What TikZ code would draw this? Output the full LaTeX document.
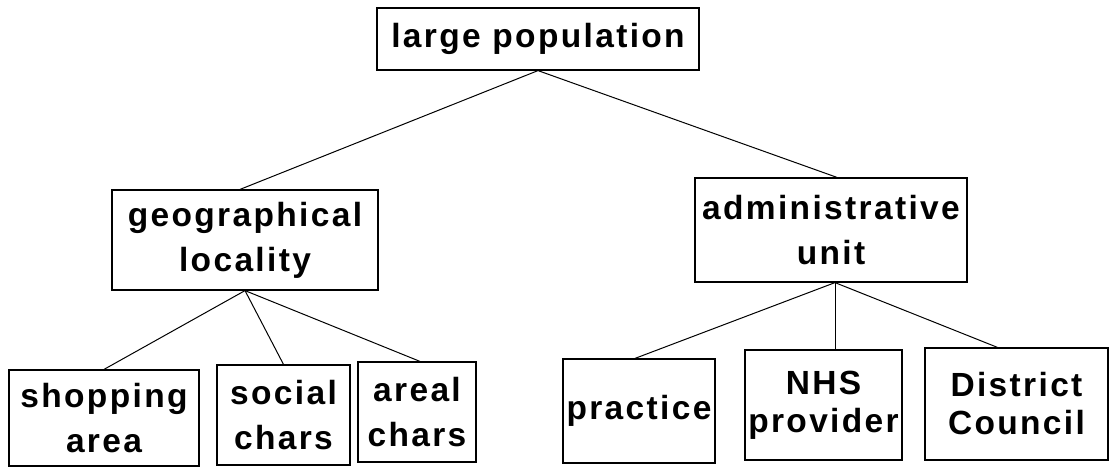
\documentclass[tikz,border=0pt]{standalone}
\usepackage{fontspec}
\setmainfont{Liberation Sans}[LetterSpace=7]
\begin{document}
\begin{tikzpicture}[x=1pt,y=-1pt,
  box/.style={draw, line width=1.2pt, inner sep=0pt, align=center,
    font=\fontsize{33.5}{45}\selectfont\bfseries},
  tight/.style={font=\fontsize{33.5}{38}\selectfont\bfseries},
  link/.style={line width=1pt}]
\useasboundingbox (0,0) rectangle (1112,469);
% top level
\node[box, minimum width=322pt, minimum height=62pt] (top) at (538,39) {large population};
% second level
\node[box, minimum width=266pt, minimum height=100pt] (geo) at (245,240) {geographical\\locality};
\node[box, minimum width=272pt, minimum height=104pt] (adm) at (831,230) {administrative\\unit};
% third level, geographical branch
\node[box, minimum width=190pt, minimum height=96pt] (shop) at (104,418) {shopping\\area};
\node[box, minimum width=133pt, minimum height=100pt] (soc) at (283.5,415) {social\\chars};
\node[box, minimum width=118pt, minimum height=100pt] (are) at (417,412) {areal\\chars};
% third level, administrative branch
\node[box, minimum width=152pt, minimum height=104pt] (prac) at (639,411) {practice};
\node[box, tight, minimum width=157pt, minimum height=110pt] (nhs) at (823.5,405) {NHS\\provider};
\node[box, tight, minimum width=183pt, minimum height=112pt] (dc) at (1016.5,404) {District\\Council};
% connectors
\coordinate (gtop) at ([xshift=-5pt]geo.north);
\coordinate (atop) at ([xshift=6pt]adm.north);
\coordinate (abot) at ([xshift=4pt]adm.south);
\coordinate (dtop) at ([xshift=-19pt]dc.north);
\draw[link] (top.south) -- (gtop);
\draw[link] (top.south) -- (atop);
\draw[link] (geo.south) -- (shop.north);
\draw[link] (geo.south) -- (soc.north);
\draw[link] (geo.south) -- ([xshift=3pt]are.north);
\draw[link] (abot) -- ([xshift=-4pt]prac.north);
\draw[link] (abot) -- (abot |- nhs.north);
\draw[link] (abot) -- (dtop);
\end{tikzpicture}
\end{document}
